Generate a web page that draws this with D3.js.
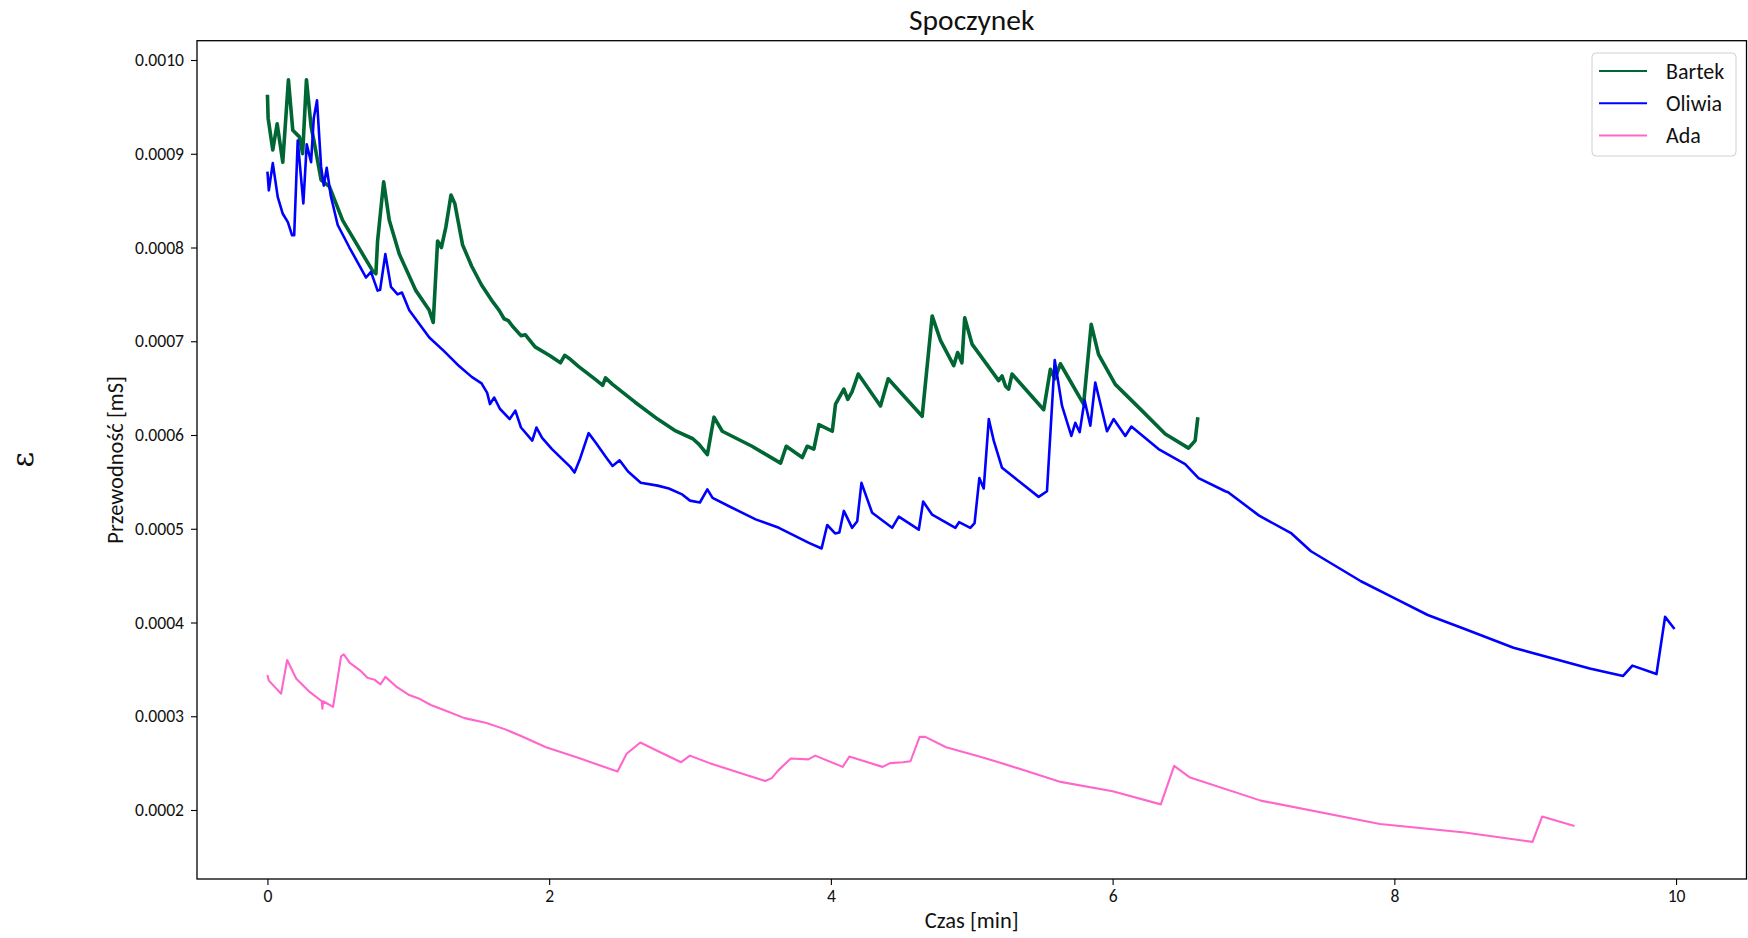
<!DOCTYPE html>
<html>
<head>
<meta charset="utf-8">
<script src="https://cdn.jsdelivr.net/npm/d3@7"></script>
<style>
	body { margin: 0; background: #fff; }
	svg { display: block; font-family: Carlito, Calibri, Lato, sans-serif; }
	.tick text { fill: #111; }
</style>
</head>
<body>
<div class="chart"></div>
<script>
// [czas w min, przewodnosc w mS]
const bartek = [
	[0.00, 0.000963], [0.005, 0.000938], [0.038, 0.000904], [0.069, 0.000932], [0.109, 0.000891],
	[0.149, 0.000979], [0.18, 0.000925], [0.227, 0.000918], [0.25, 0.000900], [0.277, 0.000979],
	[0.31, 0.000929], [0.33, 0.000914], [0.381, 0.000872], [0.44, 0.000865], [0.534, 0.000829],
	[0.652, 0.000799], [0.747, 0.000775], [0.77, 0.000772], [0.782, 0.000807], [0.825, 0.000870],
	[0.865, 0.000829], [0.936, 0.000793], [1.054, 0.000754], [1.149, 0.000733], [1.177, 0.000720],
	[1.208, 0.000807], [1.235, 0.000800], [1.267, 0.000822], [1.303, 0.000856], [1.33, 0.000847],
	[1.385, 0.000803], [1.45, 0.000780], [1.52, 0.000760], [1.60, 0.000742], [1.645, 0.000733],
	[1.68, 0.000724], [1.71, 0.000722],
	[1.74, 0.000716], [1.80, 0.000706], [1.83, 0.000707], [1.9, 0.000694], [2.0, 0.000685],
	[2.08, 0.000677], [2.11, 0.000685], [2.14, 0.000682], [2.21, 0.000673], [2.33, 0.000659],
	[2.38, 0.000653], [2.40, 0.000661], [2.45, 0.000654], [2.61, 0.000635], [2.77, 0.000617],
	[2.89, 0.000605], [3.02, 0.000596], [3.064, 0.000590], [3.123, 0.000579], [3.170, 0.000619],
	[3.229, 0.000604], [3.44, 0.000588], [3.643, 0.000570], [3.683, 0.000588], [3.797, 0.000576],
	[3.832, 0.000588], [3.879, 0.000585], [3.915, 0.000611], [4.01, 0.000604], [4.033, 0.000633],
	[4.092, 0.000649], [4.12, 0.000638], [4.15, 0.000646], [4.194, 0.000665], [4.352, 0.000631],
	[4.407, 0.000660], [4.648, 0.000620], [4.719, 0.000727], [4.778, 0.000701], [4.872, 0.000674],
	[4.90, 0.000688], [4.93, 0.000677], [4.95, 0.000725], [5.002, 0.000697], [5.191, 0.000658],
	[5.215, 0.000663], [5.24, 0.000652], [5.262, 0.000649], [5.286, 0.000665], [5.511, 0.000627],
	[5.558, 0.000670], [5.59, 0.000660], [5.629, 0.000676], [5.69, 0.000660], [5.794, 0.000633],
	[5.848, 0.000718], [5.9, 0.000686], [6.019, 0.000654], [6.208, 0.000626], [6.374, 0.000601],
	[6.539, 0.000586], [6.586, 0.000594], [6.605, 0.000619]
]

const oliwia = [
	[0.00, 0.000881], [0.01, 0.000861], [0.038, 0.000890], [0.073, 0.000854], [0.109, 0.000836],
	[0.145, 0.000827], [0.175, 0.000813], [0.19, 0.000813], [0.215, 0.000914], [0.255, 0.000847],
	[0.279, 0.000910], [0.31, 0.000891], [0.329, 0.000938], [0.352, 0.000957], [0.381, 0.000886],
	[0.40, 0.000866], [0.421, 0.000885], [0.45, 0.000855], [0.499, 0.000824], [0.582, 0.000800],
	[0.70, 0.000768], [0.735, 0.000774], [0.782, 0.000754], [0.80, 0.000755], [0.837, 0.000793],
	[0.877, 0.000758], [0.924, 0.000750], [0.955, 0.000752], [1.007, 0.000733], [1.149, 0.000704],
	[1.25, 0.000690], [1.35, 0.000675], [1.45, 0.000662], [1.52, 0.000655], [1.56, 0.000645],
	[1.58, 0.000633], [1.61, 0.000640], [1.65, 0.000628], [1.72, 0.000617], [1.76, 0.000626],
	[1.80, 0.000608], [1.88, 0.000594], [1.91, 0.000608], [1.95, 0.000597], [2.02, 0.000585],
	[2.15, 0.000566], [2.18, 0.000560], [2.22, 0.000575], [2.28, 0.000602], [2.33, 0.000592],
	[2.40, 0.000577], [2.45, 0.000567], [2.5, 0.000573], [2.56, 0.000561], [2.65, 0.000549],
	[2.77, 0.000546], [2.85, 0.000543], [2.94, 0.000537], [3.0, 0.000530], [3.07, 0.000528],
	[3.123, 0.000542], [3.16, 0.000533], [3.277, 0.000524], [3.466, 0.000510], [3.631, 0.000501],
	[3.844, 0.000485], [3.934, 0.000479], [3.974, 0.000504], [4.03, 0.000495], [4.06, 0.000496],
	[4.092, 0.000519], [4.151, 0.000501], [4.187, 0.000508], [4.217, 0.000549], [4.293, 0.000517],
	[4.435, 0.000501], [4.482, 0.000513], [4.624, 0.000499], [4.655, 0.000529], [4.719, 0.000515],
	[4.884, 0.000501], [4.91, 0.000507], [4.99, 0.000501], [5.02, 0.000506], [5.054, 0.000554],
	[5.085, 0.000543], [5.121, 0.000617], [5.156, 0.000594], [5.215, 0.000565], [5.333, 0.000551],
	[5.475, 0.000534], [5.534, 0.000540], [5.589, 0.000680], [5.641, 0.000631], [5.707, 0.000599],
	[5.735, 0.000613], [5.766, 0.000603], [5.801, 0.000637], [5.842, 0.000610], [5.877, 0.000656],
	[5.96, 0.000604], [6.007, 0.000617], [6.09, 0.000599], [6.133, 0.000609], [6.326, 0.000585],
	[6.515, 0.000569], [6.61, 0.000554], [6.8, 0.000540], [6.82, 0.000539], [7.04, 0.000514],
	[7.27, 0.000495], [7.408, 0.000476], [7.763, 0.000444], [8.0, 0.000426], [8.237, 0.000408],
	[8.5, 0.000393], [8.846, 0.000373], [9.387, 0.000351], [9.624, 0.000343], [9.69, 0.000354],
	[9.861, 0.000345], [9.922, 0.000406], [9.989, 0.000393]
]

const ada = [
	[0.0, 0.000344], [0.01, 0.000338], [0.06, 0.000330], [0.097, 0.000324], [0.14, 0.000360],
	[0.205, 0.000340], [0.30, 0.000326], [0.386, 0.000316], [0.39, 0.000308], [0.395, 0.000316],
	[0.466, 0.000310], [0.523, 0.000364], [0.542, 0.000366], [0.585, 0.000357], [0.657, 0.000349],
	[0.71, 0.000341], [0.76, 0.000339], [0.802, 0.000334], [0.838, 0.000342], [0.92, 0.000331],
	[1.001, 0.000323], [1.074, 0.000319], [1.16, 0.000312], [1.28, 0.000305], [1.399, 0.000298],
	[1.55, 0.000293], [1.689, 0.000286], [1.80, 0.000279], [1.978, 0.000267], [2.2, 0.000256],
	[2.485, 0.000241], [2.55, 0.000260], [2.647, 0.000272], [2.77, 0.000263], [2.937, 0.000251],
	[2.999, 0.000258], [3.14, 0.000250], [3.534, 0.000231], [3.58, 0.000234], [3.625, 0.000242],
	[3.715, 0.000255], [3.84, 0.000254], [3.889, 0.000258], [4.084, 0.000246], [4.131, 0.000257],
	[4.367, 0.000246], [4.42, 0.000250], [4.51, 0.000251], [4.565, 0.000252], [4.63, 0.000278],
	[4.67, 0.000278], [4.818, 0.000267], [5.054, 0.000257], [5.191, 0.000251], [5.631, 0.000230],
	[6.0, 0.000220], [6.342, 0.000206], [6.437, 0.000247], [6.545, 0.000235], [7.052, 0.000210],
	[7.898, 0.000185], [8.5, 0.000176], [8.981, 0.000166], [9.049, 0.000193], [9.279, 0.000183]
]

const names = ['Bartek', 'Oliwia', 'Ada']
const colors = ['#006633', '#0000ff', '#ff66cc']
const widths = [3.6, 2.6, 2.1]
const xTicks = [0, 2, 4, 6, 8, 10]
const yTicks = [0.0002, 0.0003, 0.0004, 0.0005, 0.0006, 0.0007, 0.0008, 0.0009, 0.0010]

const W = 1748
const H = 938
const MARGIN = { top: 40.7, bottom: 59, left: 197, right: 1.5 }
const chartW = W - MARGIN.left - MARGIN.right
const chartH = H - MARGIN.top - MARGIN.bottom

const scale = {}
scale.x = d3.scaleLinear().domain([-0.5, 10.5]).range([0, chartW])
scale.y = d3.scaleLinear().domain([0.0001264, 0.0010206]).range([chartH, 0])

const line = d3.line()
	.x(d => scale.x(d[0]))
	.y(d => scale.y(d[1]))

const svg = d3.select('.chart').append('svg')
	.attr('width', W)
	.attr('height', H)

svg.append('rect').attr('width', W).attr('height', H).attr('fill', '#fff')

const chart = svg.append('g')
	.attr('transform', `translate(${MARGIN.left},${MARGIN.top})`)

// axes
const xAxis = chart.append('g')
	.attr('transform', `translate(0,${chartH})`)
	.call(d3.axisBottom(scale.x).tickValues(xTicks).tickFormat(d3.format('d')).tickSize(6).tickPadding(5))
const yAxis = chart.append('g')
	.call(d3.axisLeft(scale.y).tickValues(yTicks).tickFormat(d3.format('.4f')).tickSize(6).tickPadding(7))

;[xAxis, yAxis].forEach(a => {
	a.select('.domain').remove()
	a.selectAll('.tick line').attr('stroke', '#000').attr('stroke-width', 1.1)
	a.selectAll('.tick text').attr('font-size', 17.6).attr('font-family', 'Carlito, Calibri, Lato, sans-serif')
})

// series
const data = [bartek, oliwia, ada]
chart.selectAll('.series')
	.data(data)
	.enter()
	.append('path')
	.attr('class', 'series')
	.attr('fill', 'none')
	.attr('stroke', (d, i) => colors[i])
	.attr('stroke-width', (d, i) => widths[i])
	.attr('stroke-linejoin', 'round')
	.attr('d', line)

// frame
chart.append('rect')
	.attr('width', chartW)
	.attr('height', chartH)
	.attr('fill', 'none')
	.attr('stroke', '#000')
	.attr('stroke-width', 1.3)

// title and labels
svg.append('text')
	.attr('x', MARGIN.left + chartW / 2)
	.attr('y', 30)
	.attr('text-anchor', 'middle')
	.attr('font-size', 29.5)
	.attr('fill', '#111')
	.text('Spoczynek')

svg.append('text')
	.attr('x', MARGIN.left + chartW / 2)
	.attr('y', 928)
	.attr('text-anchor', 'middle')
	.attr('font-size', 22.5)
	.attr('fill', '#111')
	.text('Czas [min]')

svg.append('text')
	.attr('transform', `translate(123,${MARGIN.top + chartH / 2}) rotate(-90)`)
	.attr('text-anchor', 'middle')
	.attr('font-size', 22.5)
	.attr('fill', '#111')
	.text('Przewodność [mS]')

svg.append('text')
	.attr('transform', `translate(33,${MARGIN.top + chartH / 2}) rotate(-90)`)
	.attr('text-anchor', 'middle')
	.attr('font-family', '"DejaVu Serif", serif')
	.attr('font-size', 30)
	.attr('fill', '#111')
	.text('ε')

// legend
const legend = svg.append('g')
	.attr('transform', 'translate(1592,53)')

legend.append('rect')
	.attr('width', 144)
	.attr('height', 103)
	.attr('rx', 4)
	.attr('fill', '#fff')
	.attr('fill-opacity', 0.8)
	.attr('stroke', '#d0d0d0')

const item = legend.selectAll('.legend__item')
	.data(names)
	.enter()
	.append('g')
	.attr('class', 'legend__item')
	.attr('transform', (d, i) => `translate(0,${18 + i * 32.2})`)

item.append('line')
	.attr('x1', 7)
	.attr('x2', 55)
	.attr('stroke', (d, i) => colors[i])
	.attr('stroke-width', 2)

item.append('text')
	.attr('x', 74)
	.attr('dy', '0.35em')
	.attr('font-size', 22)
	.attr('fill', '#111')
	.text(d => d)
</script>
</body>
</html>
